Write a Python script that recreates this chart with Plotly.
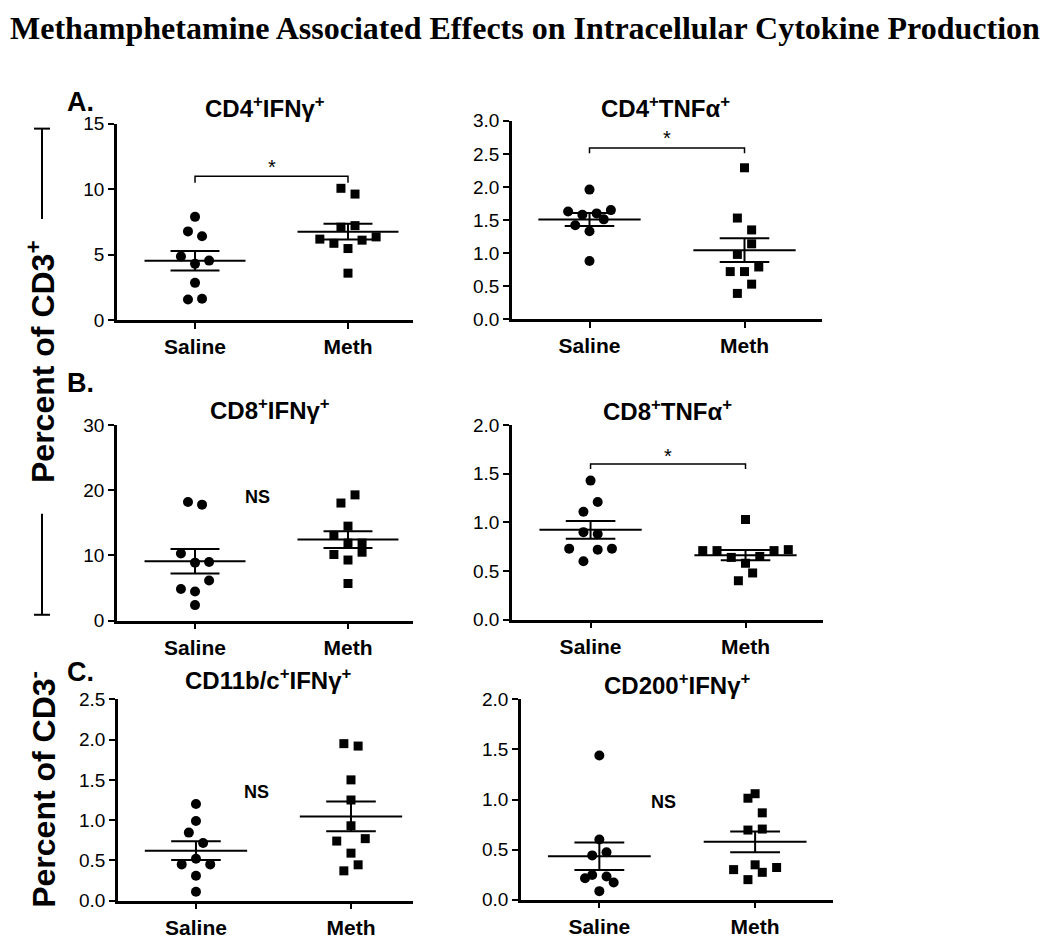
import numpy as np
import plotly.graph_objects as go

W, H = 1050, 939

groups = ["Saline", "Meth"]

# ---- data (percent) ----
cd4_ifng_saline = [7.89, 6.78, 6.41, 4.87, 4.55, 4.30, 2.85, 1.58, 1.63]
cd4_ifng_meth = [10.07, 9.63, 7.10, 7.22, 6.19, 5.87, 6.11, 6.36, 5.47, 3.59]

cd4_tnfa_saline = [1.96, 1.63, 1.58, 1.60, 1.65, 1.51, 1.42, 1.33, 0.88]
cd4_tnfa_meth = [2.29, 1.53, 1.35, 1.14, 0.98, 0.79, 0.72, 0.72, 0.53, 0.39]

cd8_ifng_saline = [18.2, 17.8, 10.3, 8.9, 9.0, 6.15, 4.85, 4.46, 2.38]
cd8_ifng_meth = [18.05, 19.3, 14.5, 13.1, 11.9, 11.9, 10.5, 10.15, 9.3, 5.7]

cd8_tnfa_saline = [1.43, 1.21, 1.11, 0.90, 0.88, 0.73, 0.72, 0.73, 0.60]
cd8_tnfa_meth = [1.03, 0.71, 0.71, 0.71, 0.72, 0.64, 0.65, 0.58, 0.48, 0.40]

cd11_ifng_saline = [1.20, 0.99, 0.845, 0.715, 0.45, 0.52, 0.45, 0.31, 0.11]
cd11_ifng_meth = [1.95, 1.92, 1.50, 1.25, 0.93, 0.74, 0.77, 0.59, 0.445, 0.37]

cd200_ifng_saline = [1.44, 0.60, 0.474, 0.442, 0.247, 0.214, 0.231, 0.172, 0.085]
cd200_ifng_meth = [1.058, 1.013, 0.867, 0.695, 0.705, 0.30, 0.348, 0.273, 0.321, 0.20]

panel_titles = [
    "CD4<sup>+</sup>IFNγ<sup>+</sup>",
    "CD4<sup>+</sup>TNFα<sup>+</sup>",
    "CD8<sup>+</sup>IFNγ<sup>+</sup>",
    "CD8<sup>+</sup>TNFα<sup>+</sup>",
    "CD11b/c<sup>+</sup>IFNγ<sup>+</sup>",
    "CD200<sup>+</sup>IFNγ<sup>+</sup>",
]

# ---- layout-only settings (jitter steps, positions) ----
STEP = 0.046
jit = {
    "a1": ([0, -1, 1, -2, 2, 0, 0, -1, 1], [-1, 1, -1, 1, -4, -2, 2, 4, 0, 0]),
    "a2": ([0, -3, -1, 1, 3, 2, -2, 0, 0], [0, -1, 1, 1, -1, 2, -2, 0, 1, -1]),
    "b1": ([-1, 1, -2, 0, 2, 2, -2, 0, 0], [-1, 1, 0, -2, 0, 2, 2, -2, 0, 0]),
    "b2": ([0, 1, -1, -1, 1, -3, 1, 3, -1], [0, -6, -4, 4, 6, -2, 2, 0, 1, -1]),
    "c1": ([0, 0, -1, 1, -2, 0, 2, 0, 0], [-1, 1, 0, 0, 0, -2, 2, 0, 1, -1]),
    "c2": ([0, 0, 1, -1, -1, -2, 1, 2, 0], [0, -1, 1, -1, 1, -3, 0, 1, 3, -1]),
}

def px_x(p):
    return p / W

def px_y(p):
    return 1 - p / H

panels = [
    dict(key="a1", s=cd4_ifng_saline, m=cd4_ifng_meth, xd=(117, 413), yd=(117, 319),
         xr=(-0.51, 1.425), yr=(0, 15), dt=5, fmt="d", title=(265, 100),
         sig=(11.0, 10.5, 11.7), ns=None),
    dict(key="a2", s=cd4_tnfa_saline, m=cd4_tnfa_meth, xd=(512, 822), yd=(114, 318),
         xr=(-0.5, 1.5), yr=(0, 3), dt=0.5, fmt=".1f", title=(666, 100),
         sig=(2.59, 2.51, 2.74), ns=None),
    dict(key="b1", s=cd8_ifng_saline, m=cd8_ifng_meth, xd=(117, 413), yd=(427, 628),
         xr=(-0.51, 1.425), yr=(0, 30), dt=10, fmt="d", title=(270, 410),
         sig=None, ns=(0.41, 19.0)),
    dict(key="b2", s=cd8_tnfa_saline, m=cd8_tnfa_meth, xd=(512, 823), yd=(427, 627),
         xr=(-0.507, 1.5), yr=(0, 2), dt=0.5, fmt=".1f", title=(667, 411),
         sig=(1.60, 1.55, 1.68), ns=None),
    dict(key="c1", s=cd11_ifng_saline, m=cd11_ifng_meth, xd=(118, 413), yd=(709, 916),
         xr=(-0.503, 1.40), yr=(0, 2.5), dt=0.5, fmt=".1f", title=(268, 688),
         sig=None, ns=(0.39, 1.35)),
    dict(key="c2", s=cd200_ifng_saline, m=cd200_ifng_meth, xd=(521, 833), yd=(709, 915),
         xr=(-0.503, 1.50), yr=(0, 2), dt=0.5, fmt=".1f", title=(677, 693),
         sig=None, ns=(0.415, 0.98)),
]

FONT = "Liberation Sans, Arial, sans-serif"
fig = go.Figure()
annotations = []
shapes = []
MEAN_HW = 0.33
SEM_HW = 0.16

for i, p in enumerate(panels):
    n = "" if i == 0 else str(i + 1)
    xa, ya = "x" + n, "y" + n
    js, jm = jit[p["key"]]
    for gi, (vals, jj, sym, msize) in enumerate([(p["s"], js, "circle", 10), (p["m"], jm, "square", 9)]):
        xs = [gi + j * STEP for j in jj]
        fig.add_trace(go.Scatter(x=xs, y=vals, mode="markers", xaxis=xa, yaxis=ya,
                                 marker=dict(symbol=sym, size=msize, color="black"),
                                 cliponaxis=False, showlegend=False, hoverinfo="y"))
        arr = np.array(vals, dtype=float)
        mean = arr.mean()
        sem = arr.std(ddof=1) / np.sqrt(len(arr))
        lx = [gi - MEAN_HW, gi + MEAN_HW, None,
              gi - SEM_HW, gi + SEM_HW, None,
              gi - SEM_HW, gi + SEM_HW, None,
              gi, gi]
        ly = [mean, mean, None,
              mean + sem, mean + sem, None,
              mean - sem, mean - sem, None,
              mean - sem, mean + sem]
        fig.add_trace(go.Scatter(x=lx, y=ly, mode="lines", xaxis=xa, yaxis=ya,
                                 line=dict(color="black", width=2),
                                 showlegend=False, hoverinfo="skip", cliponaxis=False))
    axis_common = dict(showgrid=False, zeroline=False, showline=True, linecolor="black",
                       linewidth=2.5, ticks="outside", ticklen=6, tickwidth=2,
                       tickcolor="black")
    fig.update_layout({
        ("xaxis" + n): dict(domain=[px_x(p["xd"][0]), px_x(p["xd"][1])], range=list(p["xr"]),
                            anchor=ya, tickvals=[0, 1], ticktext=groups,
                            tickfont=dict(family=FONT, size=21, color="black", weight="bold"),
                            **axis_common),
        ("yaxis" + n): dict(domain=[px_y(p["yd"][1]), px_y(p["yd"][0])], range=list(p["yr"]),
                            anchor=xa, dtick=p["dt"], tick0=0, tickformat=p["fmt"],
                            tickfont=dict(family=FONT, size=19, color="black"),
                            **axis_common),
    })
    annotations.append(dict(text="<b>" + panel_titles[i] + "</b>", xref="paper", yref="paper",
                            x=px_x(p["title"][0]), y=px_y(p["title"][1]),
                            showarrow=False, xanchor="center", yanchor="middle",
                            font=dict(family=FONT, size=24, color="black")))
    if p["sig"]:
        yb, ye, ys = p["sig"]
        shapes.append(dict(type="path", xref=xa, yref=ya,
                           path=f"M 0 {ye} L 0 {yb} L 1 {yb} L 1 {ye}",
                           line=dict(color="black", width=1.5)))
        annotations.append(dict(text="*", xref=xa, yref=ya, x=0.5, y=ys, showarrow=False,
                                font=dict(family=FONT, size=20, color="black")))
    if p["ns"]:
        annotations.append(dict(text="<b>NS</b>", xref=xa, yref=ya, x=p["ns"][0], y=p["ns"][1],
                                showarrow=False, font=dict(family=FONT, size=18, color="black")))

# panel letters
for lab, (lx, ly) in [("A.", (80, 95)), ("B.", (80, 384)), ("C.", (80, 681))]:
    annotations.append(dict(text="<b>" + lab + "</b>", xref="paper", yref="paper",
                            x=px_x(lx), y=px_y(ly), showarrow=False,
                            xanchor="center", yanchor="middle",
                            font=dict(family=FONT, size=27, color="black")))

# y group labels
annotations.append(dict(text="<b>Percent of CD3<sup>+</sup></b>", xref="paper", yref="paper",
                        x=px_x(41), y=px_y(362), textangle=-90, showarrow=False,
                        xanchor="center", yanchor="middle",
                        font=dict(family=FONT, size=32, color="black")))
annotations.append(dict(text="<b>Percent of CD3<sup>-</sup></b>", xref="paper", yref="paper",
                        x=px_x(41), y=px_y(802), textangle=-90, showarrow=False,
                        xanchor="center", yanchor="middle",
                        font=dict(family=FONT, size=32, color="black")))

# bracket lines for the CD3+ label
for (y0, y1, ycap) in [(122, 215, 122), (518, 622, 622)]:
    shapes.append(dict(type="line", xref="paper", yref="paper",
                       x0=px_x(42), x1=px_x(42), y0=px_y(y0), y1=px_y(y1),
                       line=dict(color="black", width=2)))
    shapes.append(dict(type="line", xref="paper", yref="paper",
                       x0=px_x(34), x1=px_x(50), y0=px_y(ycap), y1=px_y(ycap),
                       line=dict(color="black", width=2)))

# main title
annotations.append(dict(text="<b>Methamphetamine Associated Effects on Intracellular Cytokine Production</b>",
                        xref="paper", yref="paper", x=0.5, y=px_y(19), showarrow=False,
                        xanchor="center", yanchor="middle",
                        font=dict(family="Liberation Serif, Times New Roman, serif", size=32, color="black")))

fig.update_layout(width=W, height=H, margin=dict(l=0, r=0, t=0, b=0),
                  paper_bgcolor="white", plot_bgcolor="white",
                  annotations=annotations, shapes=shapes, showlegend=False)

fig.write_html("out.html", config={"displayModeBar": False},
               post_script="document.body.style.margin='0px';document.body.style.overflow='hidden';")
